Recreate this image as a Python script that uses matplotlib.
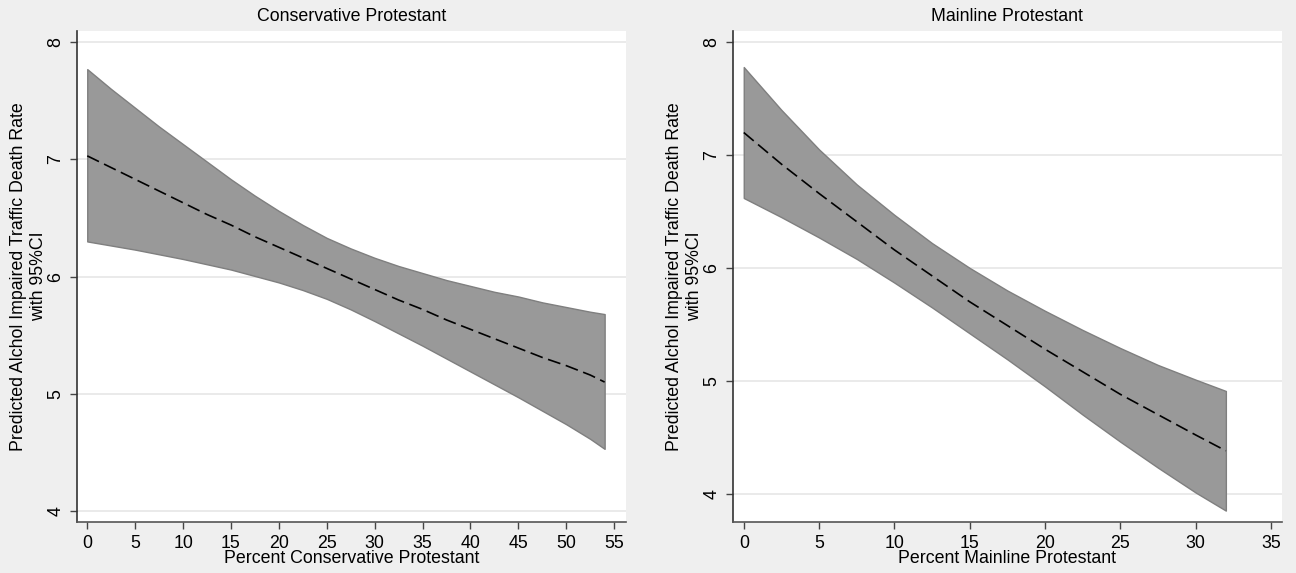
import numpy as np
import matplotlib
matplotlib.use("Agg")
import matplotlib.pyplot as plt

plt.rcParams['font.family'] = ['Liberation Sans', 'DejaVu Sans']

# Conservative Protestant panel
cons_x = [0, 2.5, 5, 7.5, 10, 12.5, 15, 17.5, 20, 22.5, 25, 27.5,
          30, 32.5, 35, 37.5, 40, 42.5, 45, 47.5, 50, 52.5, 54]
cons_pred = [7.03, 6.93, 6.83, 6.73, 6.63, 6.53, 6.44, 6.34, 6.25, 6.16, 6.07, 5.98,
             5.89, 5.80, 5.72, 5.63, 5.55, 5.47, 5.39, 5.31, 5.24, 5.16, 5.10]
cons_upper = [7.77, 7.60, 7.44, 7.28, 7.13, 6.98, 6.83, 6.69, 6.56, 6.44, 6.33, 6.24,
              6.16, 6.09, 6.03, 5.97, 5.92, 5.87, 5.83, 5.78, 5.74, 5.70, 5.68]
cons_lower = [6.30, 6.265, 6.23, 6.19, 6.15, 6.105, 6.06, 6.005, 5.95, 5.885, 5.81, 5.72,
              5.62, 5.515, 5.41, 5.30, 5.19, 5.08, 4.97, 4.855, 4.74, 4.615, 4.53]

# Mainline Protestant panel
main_x = [0, 2.5, 5, 7.5, 10, 12.5, 15, 17.5, 20, 22.5, 25, 27.5, 30, 32]
main_pred = [7.20, 6.92, 6.66, 6.41, 6.16, 5.93, 5.70, 5.49, 5.28, 5.08, 4.88, 4.70, 4.52, 4.38]
main_upper = [7.78, 7.40, 7.05, 6.74, 6.47, 6.22, 6.00, 5.80, 5.62, 5.45, 5.29, 5.14, 5.01, 4.91]
main_lower = [6.62, 6.45, 6.27, 6.08, 5.87, 5.65, 5.42, 5.19, 4.95, 4.70, 4.46, 4.23, 4.01, 3.85]

ylab = "Predicted Alchol Impaired Traffic Death Rate\nwith 95%CI"

fig = plt.figure(figsize=(12.96, 5.73), dpi=100, facecolor='#efefef')

panels = [
    ("Conservative Protestant", "Percent Conservative Protestant",
     cons_x, cons_pred, cons_upper, cons_lower,
     [0.0592, 0.089, 0.4236, 0.857], (-1.1, 56.2), (3.906, 8.096), np.arange(0, 56, 5)),
    ("Mainline Protestant", "Percent Mainline Protestant",
     main_x, main_pred, main_upper, main_lower,
     [0.5654, 0.089, 0.4236, 0.857], (-0.73, 35.71), (3.749, 8.1), np.arange(0, 36, 5)),
]

fs = 12.8
for title, xlab, x, pred, up, lo, pos, xl, yl, xt in panels:
    ax = fig.add_axes(pos)
    ax.set_facecolor('white')
    ax.fill_between(x, lo, up, facecolor='#999999', edgecolor='#7f7f7f', linewidth=1.0, zorder=2)
    ax.plot(x, pred, color='black', linestyle=(0, (7.8, 3.4)), linewidth=1.2, zorder=3)
    ax.set_xlim(*xl)
    ax.set_ylim(*yl)
    ax.set_xticks(xt)
    ax.set_yticks([4, 5, 6, 7, 8])
    ax.yaxis.grid(True, color='#e6e6e6', linewidth=1.2, zorder=0)
    ax.set_axisbelow(True)
    for s in ['top', 'right']:
        ax.spines[s].set_visible(False)
    ax.spines['left'].set_color('#333333')
    ax.spines['bottom'].set_color('#555555')
    ax.spines['left'].set_linewidth(1.2)
    ax.spines['bottom'].set_linewidth(1.2)
    ax.tick_params(axis='both', direction='out', length=5, width=1, color='#444444',
                   labelsize=fs, pad=4)
    for t in ax.get_yticklabels():
        t.set_rotation(90)
        t.set_va('center')
    ax.set_title(title, fontsize=fs, pad=7.5)
    ax.set_xlabel(xlab, fontsize=fs, labelpad=-1)
    ax.set_ylabel(ylab, fontsize=fs, linespacing=1.2, va='center', ha='center')
    ax.yaxis.set_label_coords(-0.0875, 0.5)

fig.savefig("out.png", dpi=100, facecolor=fig.get_facecolor())
